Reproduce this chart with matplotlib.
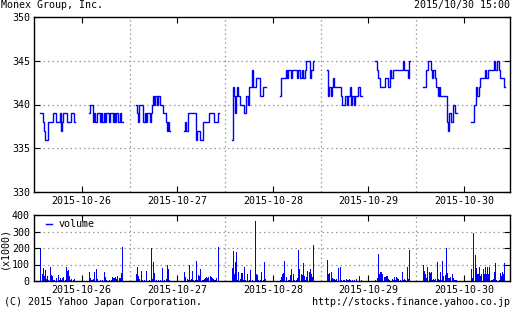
import matplotlib
matplotlib.use("Agg")
import matplotlib.pyplot as plt
from matplotlib.lines import Line2D

FONT = "DejaVu Sans Mono"
FS = 7.2
BLUE = "#0000ff"

title = "Monex Group, Inc."
stamp = "2015/10/30 15:00"
credit = "(C) 2015 Yahoo Japan Corporation."
url = "http://stocks.finance.yahoo.co.jp"
dates = ["2015-10-26", "2015-10-27", "2015-10-28", "2015-10-29", "2015-10-30"]
price_ticks = [330, 335, 340, 345, 350]
vol_ticks = [0, 100, 200, 300, 400]

# 5-minute bars, morning session 9:00-11:30
price_am = [
    [339, 339, 338, 337, 336, 336, 336, 338, 338, 338, 338, 339, 339, 339, 338, 338, 338, 339, 337, 338, 339, 339, 339, 338, 338, 338, 338, 339, 339, 338],
    [340, 339, 338, 340, 340, 340, 338, 338, 339, 338, 339, 339, 338, 339, 340, 341, 340, 341, 340, 341, 341, 340, 340, 340, 339, 339, 338, 337, 338, 337],
    [336, 342, 341, 339, 341, 342, 341, 340, 340, 340, 340, 339, 339, 341, 340, 342, 342, 342, 344, 342, 342, 343, 343, 343, 343, 341, 341, 342, 342, 342],
    [344, 341, 342, 341, 342, 343, 342, 342, 342, 342, 342, 342, 341, 340, 340, 340, 341, 340, 341, 341, 342, 340, 341, 340, 341, 341, 341, 342, 342, 341],
    [342, 342, 342, 344, 344, 345, 345, 344, 343, 344, 344, 343, 342, 341, 342, 341, 341, 341, 341, 341, 341, 338, 337, 339, 339, 338, 340, 340, 339, 339],
]
# afternoon session 12:30-15:00
price_pm = [
    [339, 340, 340, 340, 338, 339, 338, 339, 339, 339, 338, 339, 338, 339, 338, 339, 339, 339, 338, 339, 339, 338, 339, 338, 339, 339, 338, 339, 338, 338],
    [337, 338, 337, 339, 339, 339, 339, 339, 339, 339, 336, 337, 337, 337, 336, 336, 338, 338, 338, 338, 338, 338, 339, 339, 339, 339, 338, 338, 338, 339],
    [341, 343, 343, 343, 343, 344, 343, 344, 344, 344, 343, 344, 344, 344, 344, 343, 344, 344, 343, 344, 343, 343, 344, 345, 345, 345, 343, 344, 344, 345],
    [345, 344, 343, 343, 342, 342, 342, 342, 343, 343, 343, 342, 342, 344, 343, 344, 344, 344, 344, 344, 344, 344, 344, 344, 345, 344, 344, 344, 343, 345],
    [338, 338, 338, 340, 342, 341, 341, 342, 343, 343, 343, 343, 344, 343, 343, 344, 344, 344, 344, 344, 345, 344, 344, 345, 344, 343, 343, 343, 343, 342],
]
# volume (x1000)
vol_am = [
    [200, 44, 78, 28, 64, 12, 30, 8, 84, 34, 28, 5, 4, 3, 18, 38, 5, 18, 6, 20, 22, 5, 84, 62, 66, 30, 6, 14, 4, 12],
    [44, 84, 30, 10, 58, 5, 3, 5, 2, 58, 3, 5, 2, 200, 10, 114, 46, 4, 3, 8, 3, 5, 3, 78, 5, 3, 10, 94, 70, 5],
    [77, 180, 40, 114, 174, 8, 53, 10, 47, 47, 5, 83, 5, 43, 3, 5, 67, 3, 5, 3, 365, 43, 38, 5, 3, 5, 53, 6, 114, 12],
    [128, 44, 50, 53, 20, 10, 15, 6, 12, 78, 3, 83, 5, 3, 5, 8, 10, 4, 8, 12, 6, 3, 5, 4, 3, 10, 2, 3, 28, 5],
    [97, 63, 40, 20, 83, 53, 47, 57, 5, 12, 4, 10, 118, 15, 6, 53, 8, 124, 30, 35, 200, 47, 20, 20, 26, 43, 18, 8, 6, 4],
]
vol_pm = [
    [57, 20, 5, 6, 12, 53, 73, 12, 3, 3, 6, 2, 4, 53, 26, 8, 3, 3, 8, 4, 26, 20, 18, 26, 12, 28, 18, 18, 48, 205],
    [53, 22, 10, 5, 94, 6, 15, 63, 8, 5, 124, 5, 38, 32, 73, 6, 5, 12, 18, 26, 20, 24, 28, 24, 20, 10, 6, 4, 16, 205],
    [5, 26, 43, 47, 124, 22, 3, 4, 8, 38, 73, 43, 6, 3, 6, 18, 187, 73, 40, 38, 108, 32, 6, 26, 63, 57, 73, 43, 22, 220],
    [5, 20, 163, 45, 57, 57, 40, 26, 22, 28, 32, 12, 5, 3, 12, 8, 26, 5, 26, 18, 12, 5, 3, 57, 8, 12, 6, 83, 10, 185],
    [73, 20, 290, 155, 77, 40, 45, 87, 30, 40, 73, 43, 83, 45, 87, 45, 83, 5, 6, 10, 53, 108, 5, 3, 8, 47, 30, 53, 40, 108],
]

AM_START = 9 * 60
PM_START = 12 * 60 + 30
STEP = 5
T0 = 512.6          # minute of day at each day's left boundary
SPAN = 415.7        # minutes shown per day slot
NOON = 12 * 60


def xpos(day, minute):
    return day + (minute - T0) / SPAN


fig = plt.figure(figsize=(5.12, 3.10), dpi=100)
W, H = 512.0, 310.0
L, R = 34.0, 510.0
ax = fig.add_axes([L / W, 1 - 192.0 / H, (R - L) / W, (192.0 - 17.0) / H])
axv = fig.add_axes([L / W, 1 - 281.0 / H, (R - L) / W, (281.0 - 215.0) / H])

for d in range(len(dates)):
    for start, prices, vols in ((AM_START, price_am[d], vol_am[d]), (PM_START, price_pm[d], vol_pm[d])):
        n = len(prices)
        xs = [xpos(d, start + STEP * k) for k in range(n + 1)]
        ys = list(prices) + [prices[-1]]
        ax.plot(xs, ys, drawstyle="steps-post", color=BLUE, lw=1.0,
                solid_joinstyle="miter")
        xb = [xpos(d, start + STEP * k + STEP / 2) for k in range(n)]
        axv.bar(xb, vols, width=1.0 / 95.6, color=BLUE, linewidth=0,
                antialiased=False)

xmax = (R - L) / 95.6
tick_x = [xpos(d, NOON) for d in range(len(dates))]
bounds = [float(d) for d in range(1, len(dates))]

grid_kw = dict(color="#999999", linestyle=(0, (1.2, 2.4)), linewidth=0.9)
for a, yt in ((ax, price_ticks), (axv, vol_ticks)):
    a.set_xlim(0, xmax)
    a.set_ylim(yt[0], yt[-1])
    a.set_yticks(yt)
    a.set_xticks(tick_x)
    a.set_xticklabels(dates, fontsize=FS, family=FONT)
    a.set_yticklabels([str(v) for v in yt], fontsize=FS, family=FONT)
    a.tick_params(direction="in", length=4, width=0.8, top=True, right=True,
                  pad=3, colors="black")
    for b in bounds:
        a.axvline(b, zorder=0, **grid_kw)
    for v in yt[1:-1]:
        a.axhline(v, zorder=0, **grid_kw)
    for s in a.spines.values():
        s.set_linewidth(1.0)
        s.set_color("black")

axv.set_ylabel("(x1000)", fontsize=FS, family=FONT, labelpad=2)
handle = Line2D([], [], color=BLUE, lw=1.0)
axv.legend([handle], ["volume"], loc="upper left", bbox_to_anchor=(0.012, 1.03),
           frameon=False, handlelength=0.6, handletextpad=0.7, borderaxespad=0.2,
           prop={"family": FONT, "size": FS})

fig.text(1 / W, 1 - 5 / H, title, fontsize=FS, family=FONT, va="center", ha="left")
fig.text(510 / W, 1 - 5 / H, stamp, fontsize=FS, family=FONT, va="center", ha="right")
fig.text(4 / W, 1 - 302 / H, credit, fontsize=FS, family=FONT, va="center", ha="left")
fig.text(510 / W, 1 - 302 / H, url, fontsize=FS, family=FONT, va="center", ha="right")

fig.savefig("out.png", dpi=100)
